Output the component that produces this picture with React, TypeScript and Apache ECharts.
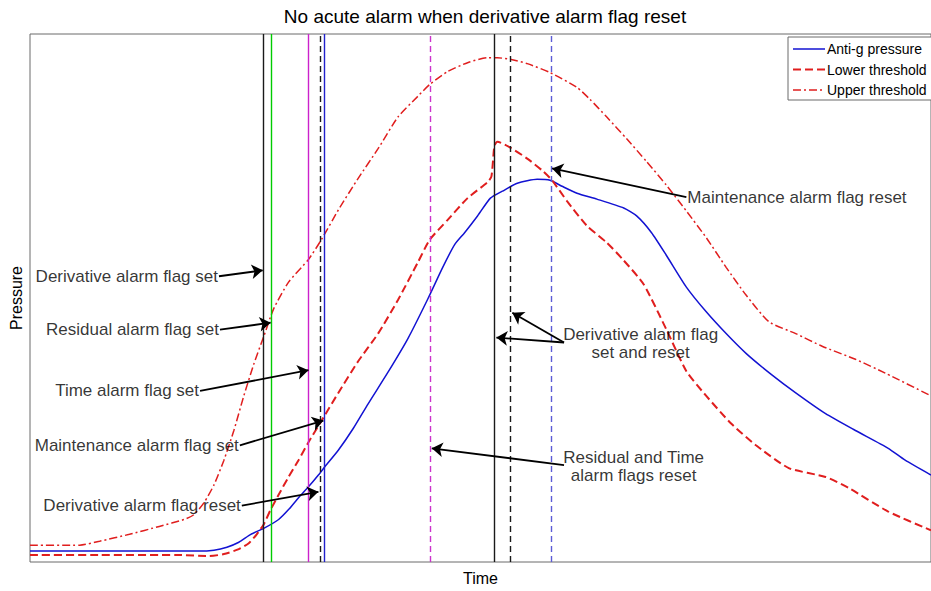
import React, { useEffect, useRef } from "react";
import * as echarts from "echarts";

const FONT = "'Liberation Sans', Arial, sans-serif";

// [time, pressure] samples of the measured suit pressure
const antiGPressure: number[][] = [
  [0, 1.1], [9, 1.1], [17, 1.1], [18.5, 1.2], [19.8, 1.5], [21, 2.0], [22.2, 2.8],
  [23.5, 3.4], [25, 4.3], [26, 5.3], [27, 6.5], [28, 7.6], [29, 8.8], [29.7, 9.7],
  [31, 11.3], [32.5, 13.5], [34, 16.0], [36, 19.2], [38, 22.6], [40, 26.6],
  [41.5, 29.8], [42.7, 32.1], [43.7, 33.3], [45, 35.0], [46.3, 36.8], [47.5, 37.5],
  [49, 38.3], [51, 38.7], [52.3, 38.6], [53.5, 38.0], [55, 37.3], [57, 36.7],
  [59.7, 35.8], [61, 35.0], [62.5, 33.3], [64, 31.0], [66, 27.8], [68, 25.3],
  [70, 23.1], [72, 21.1], [74.5, 19.0], [77, 17.1], [80, 15.0], [83, 13.3],
  [86.3, 11.5], [88, 10.3], [90.6, 8.8],
];

// [time, pressure] of the lower alarm threshold
const lowerThreshold: number[][] = [
  [0, 0.7], [7, 0.7], [15, 0.7], [18, 0.6], [19.5, 0.8], [21, 1.3], [22, 1.9],
  [22.8, 2.8], [23.5, 3.8], [24.2, 5.3], [25, 6.8], [26, 8.6], [27, 10.3],
  [28, 12.1], [29.5, 14.6], [31, 17.1], [33, 20.3], [35, 23.1], [37, 26.5],
  [39, 30.3], [40.2, 32.6], [42, 34.6], [44, 36.8], [46, 38.4], [46.4, 39.0],
  [46.7, 42.1], [47, 42.5], [48.3, 41.9], [50, 40.8], [51.5, 39.6], [52.5, 38.6],
  [54, 36.5], [56, 34.0], [58, 32.3], [59.7, 30.5], [61.7, 28.1], [64, 23.5],
  [66, 19.3], [68, 16.8], [70.5, 14.0], [73, 11.8], [76.3, 9.5], [80, 8.6],
  [82.3, 7.5], [86.3, 5.1], [90.6, 3.2],
];

// [time, pressure] of the upper alarm threshold
const upperThreshold: number[][] = [
  [0, 1.7], [5, 1.7], [7, 2.1], [10, 2.8], [13, 3.6], [15.5, 4.3], [16.5, 4.8],
  [17.5, 6.0], [18.5, 7.8], [19.5, 10.3], [20.5, 13.3], [21.5, 16.8], [22.5, 20.0],
  [23.5, 22.8], [24.5, 25.6], [26, 28.3], [28, 30.6], [29.3, 32.6], [31, 35.6],
  [33, 38.8], [35, 41.8], [37, 45.0], [39, 47.1], [40.2, 48.3], [42, 49.6],
  [44, 50.5], [46, 51.0], [47, 51.0], [48.5, 50.8], [50, 50.4], [52.3, 49.5],
  [55, 48.0], [56.3, 46.8], [58, 45.0], [60, 42.8], [62, 40.5], [64, 38.1],
  [66, 35.5], [68, 32.8], [70, 29.8], [72, 27.0], [74.3, 24.3], [77, 23.1],
  [79.7, 21.8], [83, 20.5], [86, 19.1], [90.6, 16.8],
];

// times at which alarm flags change state
const flagTimes = [23.5, 24.3, 28, 29.2, 29.6, 40.2, 46.7, 48.3, 52.4];
// matching line style per flag event
const flagColors = ["#1a1a1a", "#00cc00", "#cc22cc", "#1a1a1a", "#2020cc", "#cc33cc", "#1a1a1a", "#1a1a1a", "#5c5cd6"];
const flagDashed = [false, false, false, true, false, true, false, true, true];

// annotation texts and their anchor points [time, pressure]
const noteTexts = [
  "Derivative alarm flag set",
  "Residual alarm flag set",
  "Time alarm flag set",
  "Maintenance alarm flag set",
  "Derivative alarm flag reset",
  "Maintenance alarm flag reset",
  "Derivative alarm flag\nset and reset",
  "Residual and Time\nalarm flags reset",
];
const noteAnchors: number[][] = [
  [19.0, 28.9], [19.1, 23.5], [17.1, 17.3], [21.1, 11.8], [21.3, 5.7],
  [66.0, 36.9], [61.4, 22.1], [60.7, 9.7],
];
const notePlacement = ["left", "left", "left", "left", "left", "right", "inside", "inside"];

// arrows: [fromTime, fromPressure, toTime, toPressure]
const arrows: number[][] = [
  [19.0, 28.9, 23.4, 29.5],
  [19.1, 23.5, 24.2, 24.2],
  [17.1, 17.3, 28.0, 19.4],
  [21.1, 11.8, 29.5, 14.3],
  [21.3, 5.7, 29.0, 7.1],
  [66.0, 36.9, 52.5, 39.8],
  [53.7, 22.2, 46.9, 22.7],
  [53.7, 22.2, 48.5, 25.2],
  [53.7, 9.8, 40.4, 11.5],
];

// legend entries
const legendNames = ["Anti-g pressure", "Lower threshold", "Upper threshold"];

const BLUE = "#1212d2";
const RED = "#e01e1e";
const curveStyles = [
  { color: BLUE, width: 1.5, type: "solid" as any },
  { color: RED, width: 2, type: [8, 4] as any },
  { color: RED, width: 1.5, type: [8, 3, 2, 3] as any },
];

export default function App() {
  const ref = useRef<HTMLDivElement>(null);

  useEffect(() => {
    document.body.style.margin = "0";
    if (!ref.current) return;
    const chart = echarts.init(ref.current, undefined, { renderer: "svg" });

    const curves = [antiGPressure, lowerThreshold, upperThreshold].map((data, i) => ({
      name: legendNames[i],
      type: "line",
      data,
      symbol: "none",
      smooth: 0.2,
      silent: true,
      lineStyle: curveStyles[i],
      itemStyle: { color: curveStyles[i].color },
      z: 3,
    }));

    // legend box drawn as graphics so the line samples carry the curve dash styles
    const legendGraphics: any[] = [
      {
        type: "rect",
        shape: { x: 788, y: 37, width: 170, height: 63 },
        style: { fill: "#fff", stroke: "#6a6a6a", lineWidth: 1 },
        z: 100,
      },
    ];
    legendNames.forEach((name, i) => {
      const y = 49 + i * 20.5;
      legendGraphics.push({
        type: "line",
        shape: { x1: 793, y1: y, x2: 825, y2: y },
        style: {
          stroke: curveStyles[i].color,
          lineWidth: curveStyles[i].width,
          lineDash: Array.isArray(curveStyles[i].type) ? curveStyles[i].type : null,
        },
        z: 101,
      });
      legendGraphics.push({
        type: "text",
        x: 827,
        y,
        style: { text: name, font: `14px ${FONT}`, fill: "#000", textVerticalAlign: "middle" },
        z: 101,
      });
    });

    chart.setOption({
      animation: false,
      graphic: [
        {
          type: "text",
          x: 485,
          y: 16,
          style: {
            text: "No acute alarm when derivative alarm flag reset",
            font: `19px ${FONT}`,
            fill: "#000",
            textAlign: "center",
            textVerticalAlign: "middle",
          },
        },
        ...legendGraphics,
      ],
      grid: {
        left: 30,
        top: 34,
        width: 906,
        height: 534,
        show: true,
        borderColor: "#6a6a6a",
        borderWidth: 1,
        backgroundColor: "#fff",
      },
      xAxis: {
        type: "value",
        min: 0,
        max: 90.6,
        name: "Time",
        nameLocation: "middle",
        nameGap: 8,
        nameTextStyle: { fontSize: 16, color: "#000", fontFamily: FONT, verticalAlign: "top" },
        axisLine: { show: false },
        axisTick: { show: false },
        axisLabel: { show: false },
        splitLine: { show: false },
      },
      yAxis: {
        type: "value",
        min: 0,
        max: 53.4,
        name: "Pressure",
        nameLocation: "middle",
        nameGap: 6,
        nameTextStyle: { fontSize: 16, color: "#000", fontFamily: FONT },
        axisLine: { show: false },
        axisTick: { show: false },
        axisLabel: { show: false },
        splitLine: { show: false },
      },
      series: [
        ...curves,
        {
          name: "flags",
          type: "line",
          data: [],
          silent: true,
          z: 2,
          markLine: {
            silent: true,
            symbol: ["none", "none"],
            label: { show: false },
            emphasis: { disabled: true },
            data: flagTimes.map((t, i) => ({
              xAxis: t,
              lineStyle: {
                color: flagColors[i],
                width: 1.4,
                type: flagDashed[i] ? [6, 4] : "solid",
              },
            })),
          },
        },
        {
          name: "arrows",
          type: "line",
          data: [],
          silent: true,
          z: 4,
          markLine: {
            silent: true,
            symbol: ["none", "arrow"],
            symbolSize: 11,
            label: { show: false },
            emphasis: { disabled: true },
            lineStyle: { color: "#000", width: 1.8, type: "solid" },
            data: arrows.map((a) => [{ coord: [a[0], a[1]] }, { coord: [a[2], a[3]] }]),
          },
        },
        {
          name: "notes",
          type: "scatter",
          symbolSize: 0,
          silent: true,
          z: 5,
          data: noteAnchors.map((p, i) => ({
            value: p,
            label: {
              show: true,
              position: notePlacement[i],
              distance: 1,
              formatter: noteTexts[i],
              fontSize: 17,
              lineHeight: 18,
              color: "#000",
              fontFamily: FONT,
              align: notePlacement[i] === "inside" ? "center" : undefined,
            },
          })),
        },
      ],
    });

    return () => chart.dispose();
  }, []);

  return (
    <div
      ref={ref}
      style={{ position: "fixed", left: 0, top: 0, width: 931, height: 591, background: "#fff" }}
    />
  );
}
